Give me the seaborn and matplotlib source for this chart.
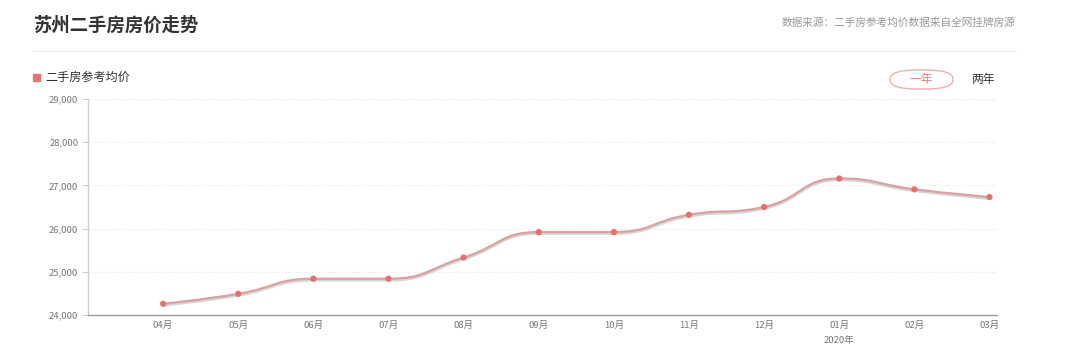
import numpy as np
import pandas as pd
import matplotlib
matplotlib.use("Agg")
import matplotlib.pyplot as plt
from matplotlib.path import Path
from matplotlib.patches import PathPatch, FancyBboxPatch
from matplotlib.ticker import FuncFormatter
import seaborn as sns

# ---- data ----
months = ["04月", "05月", "06月", "07月", "08月", "09月", "10月", "11月", "12月", "01月", "02月", "03月"]
prices = [24260, 24490, 24840, 24840, 25330, 25920, 25920, 26320, 26500, 27160, 26910, 26730]
y_ticks = [24000, 25000, 26000, 27000, 28000, 29000]
title = "苏州二手房房价走势"
source = "数据来源：二手房参考均价数据来自全网挂牌房源"
series_name = "二手房参考均价"
year_label = "2020年"
year_at = "01月"

sns.set_theme(style="white")
plt.rcParams['font.family'] = ['Noto Sans CJK SC', 'DejaVu Sans']

df = pd.DataFrame({"month": months, "price": prices, "idx": np.arange(len(months))})

fig = plt.figure(figsize=(10.8, 3.59), dpi=100)
fig.patch.set_facecolor("white")
ax = fig.add_axes([88 / 1080, 1 - 315 / 359, (997 - 88) / 1080, (315 - 99) / 359])

ax.set_xlim(-1, 11.1)
ax.set_ylim(24000, 29000)


def smooth_path(p, smooth=0.5):
    """ECharts-like smooth polyline (control points clamped between neighbours)."""
    n = len(p)
    verts = [p[0]]
    codes = [Path.MOVETO]
    cpx0, cpy0 = p[0]
    for i in range(1, n):
        x, y = p[i]
        px_, py_ = p[i - 1]
        if i < n - 1:
            nx, ny = p[i + 1]
            vx, vy = nx - px_, ny - py_
            lp = np.hypot(x - px_, y - py_)
            ln = np.hypot(nx - x, ny - y)
            ratio = ln / (ln + lp)
            ncx = x + vx * smooth * ratio
            ncy = y + vy * smooth * ratio
            ncx = min(ncx, max(nx, x)); ncx = max(ncx, min(nx, x))
            ncy = min(ncy, max(ny, y)); ncy = max(ncy, min(ny, y))
            vx, vy = ncx - x, ncy - y
            cx = x - vx * lp / ln
            cy = y - vy * lp / ln
            cx = min(cx, max(px_, x)); cx = max(cx, min(px_, x))
            cy = min(cy, max(py_, y)); cy = max(cy, min(py_, y))
            vx, vy = x - cx, y - cy
            ncx = x + vx * ln / lp
            ncy = y + vy * ln / lp
        else:
            cx, cy = x, y
            ncx, ncy = x, y
        verts += [(cpx0, cpy0), (cx, cy), (x, y)]
        codes += [Path.CURVE4] * 3
        cpx0, cpy0 = ncx, ncy
    return np.array(verts), codes


fig.canvas.draw()
pts = ax.transData.transform(np.column_stack([df["idx"].values, df["price"].values]))
verts, codes = smooth_path(pts, 0.5)
inv = ax.transData.inverted()
data_verts = inv.transform(verts)
shadow_verts = inv.transform(verts + np.array([0, -1.5]))
ax.add_patch(PathPatch(Path(shadow_verts, codes), fill=False, edgecolor="#b5adad", lw=2.0, alpha=0.5, zorder=2))
ax.add_patch(PathPatch(Path(data_verts, codes), fill=False, edgecolor="#d9a2a2", lw=1.6, zorder=3))

sns.scatterplot(data=df, x="idx", y="price", ax=ax, color="#e86f6f", s=20, edgecolor="none", zorder=4, legend=False)

ax.set_xlim(-1, 11.1)
ax.set_ylim(24000, 29000)
ax.set_xticks(df["idx"].values)
ax.set_xticklabels(months)
ax.set_yticks(y_ticks)
ax.yaxis.set_major_formatter(FuncFormatter(lambda v, p: f"{int(v):,}"))
ax.set_xlabel("")
ax.set_ylabel("")

for yv in y_ticks[1:]:
    ax.axhline(yv, color="#e2e2e2", lw=0.8, ls=(0, (1, 2)), zorder=1)

for side in ["top", "right"]:
    ax.spines[side].set_visible(False)
ax.spines["left"].set_color("#d0d0d0")
ax.spines["left"].set_linewidth(1)
ax.spines["bottom"].set_color("#9a9a9a")
ax.spines["bottom"].set_linewidth(1)

ax.tick_params(axis="y", which="major", length=4, width=0.8, color="#d0d0d0", labelsize=6.8, labelcolor="#777777", pad=3, left=True)
ax.tick_params(axis="x", which="major", length=0, labelsize=6.8, labelcolor="#777777", pad=4)

# year label below 01月
ax.text(months.index(year_at), -0.095, year_label, transform=ax.get_xaxis_transform(),
        ha="center", va="top", fontsize=6.8, color="#777777")

# title / header
fig.text(33 / 1080, 1 - 25 / 359, title, ha="left", va="center", fontsize=13.2, fontweight="bold", color="#333333")
fig.text(1015 / 1080, 1 - 23 / 359, source, ha="right", va="center", fontsize=7.7, color="#999999")
fig.add_artist(plt.Line2D([33 / 1080, 1015 / 1080], [1 - 51 / 359, 1 - 51 / 359], color="#eeeeee", lw=1))

# legend
fig.add_artist(plt.Rectangle((33 / 1080, 1 - 81 / 359), 7 / 1080, 7 / 359, color="#e57373", transform=fig.transFigure))
fig.text(45 / 1080, 1 - 77 / 359, series_name, ha="left", va="center", fontsize=8.7, color="#333333")

# buttons
fig.add_artist(FancyBboxPatch((890 / 1080, 1 - 89 / 359), 63 / 1080, 19 / 359,
                              boxstyle="round,pad=0,rounding_size=0.025", transform=fig.transFigure,
                              facecolor="white", edgecolor="#f0a8a8", lw=0.9, mutation_aspect=1080 / 359 / 3))
fig.text(921.5 / 1080, 1 - 79.5 / 359, "一年", ha="center", va="center", fontsize=8.5, color="#ee7b7b")
fig.text(983 / 1080, 1 - 79.5 / 359, "两年", ha="center", va="center", fontsize=8.5, color="#333333")

fig.savefig("out.png", dpi=100, facecolor="white")
